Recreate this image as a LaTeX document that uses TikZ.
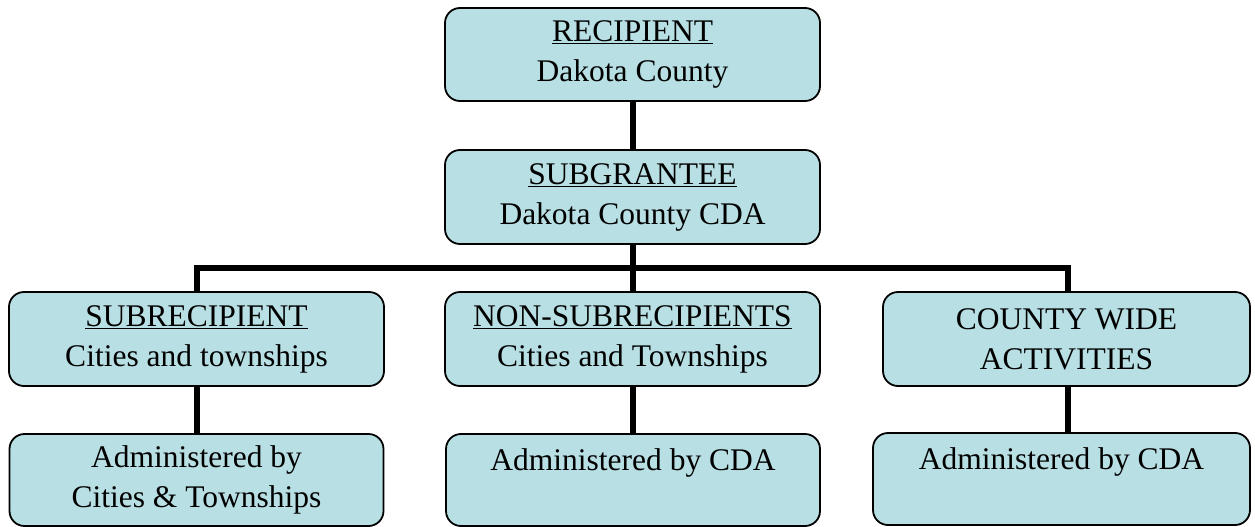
\documentclass[tikz,border=0pt]{standalone}
\usepackage{fontspec}
\setmainfont{Liberation Serif}
\definecolor{boxfill}{HTML}{B8DFE3}
\begin{document}
\begin{tikzpicture}[x=1pt,y=-1pt,
  orgbox/.style={draw=black, line width=1.8pt, fill=boxfill, rounded corners=15pt,
    align=center, inner sep=0pt, font=\fontsize{31.5}{40}\selectfont},
  link/.style={line width=6pt, draw=black}]
\useasboundingbox (0,0) rectangle (1255,527);
\node[orgbox, minimum width=375pt, minimum height=93pt] (rec) at (632.5,54.5) {\underline{RECIPIENT}\\Dakota County};
\node[orgbox, minimum width=375pt, minimum height=94pt] (sub) at (632.5,197) {\underline{SUBGRANTEE}\\Dakota County CDA};
\node[orgbox, minimum width=375pt, minimum height=94pt] (sr) at (196.5,339) {\underline{SUBRECIPIENT}\\Cities and townships};
\node[orgbox, minimum width=375pt, minimum height=94pt] (nsr) at (632.5,339) {\underline{NON-SUBRECIPIENTS}\\Cities and Townships};
\node[orgbox, minimum width=367pt, minimum height=94pt] (cw) at (1066.5,339) {COUNTY WIDE\\ACTIVITIES};
\node[orgbox, minimum width=374pt, minimum height=92pt] (a1) at (196.5,480) {Administered by\\Cities \& Townships};
\node[orgbox, minimum width=374pt, minimum height=92pt] (a2) at (633,480) {Administered by CDA\\\mbox{}};
\node[orgbox, minimum width=377pt, minimum height=92pt] (a3) at (1061.5,479) {Administered by CDA\\\mbox{}};
\coordinate (bar) at (632.5,268);
\coordinate (barL) at (197,268);
\coordinate (barR) at (1068,268);
\draw[link] (rec.south) -- (sub.north);
\draw[link] (sub.south) -- (nsr.north);
\draw[link] (sr.north -| barL) -- (barL) -- (barR) -- (cw.north -| barR);
\draw[link] (sr.south -| barL) -- (a1.north -| barL);
\draw[link] (nsr.south) -- (a2.north -| nsr.south);
\draw[link] (cw.south -| barR) -- (a3.north -| barR);
\end{tikzpicture}
\end{document}
